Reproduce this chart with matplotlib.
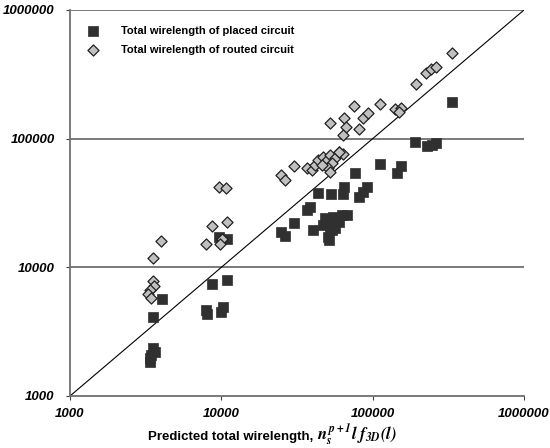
import numpy as np
import matplotlib
matplotlib.use("Agg")
import matplotlib.pyplot as plt

plt.rcParams['font.family'] = ['Liberation Sans', 'DejaVu Sans']
plt.rcParams['mathtext.fontset'] = 'stix'

# predicted total wirelength vs. total wirelength of routed circuit
routed_x = [4000, 3530, 3510, 3610, 3380, 3280, 3430,
            9690, 10800, 8710, 10900, 7910, 10100, 9860,
            24800, 26300, 30200, 36600, 39500,
            41500, 43500, 46900, 49800, 52200, 56300, 59800, 63600, 53800, 50600, 52200, 46200,
            52600, 64500, 67000, 63900, 60100, 75700, 81500, 86600, 93000,
            112000, 140000, 155000, 150000, 192000, 226000, 242000, 264000, 334000]
routed_y = [15900, 11900, 7830, 7160, 6660, 6200, 5770,
            42100, 41100, 20900, 22600, 15200, 16500, 15300,
            52600, 48100, 61000, 58800, 57000,
            62400, 68200, 72000, 68200, 74600, 70700, 78700, 75900, 64600, 59100, 55000, 62400,
            131500, 146000, 124000, 107000, 79100, 179000, 119000, 144000, 157000,
            186000, 171000, 172000, 162000, 266000, 326000, 349000, 360000, 467000]

# predicted total wirelength vs. total wirelength of placed circuit
placed_x = [4030, 3550, 3510, 3640, 3380, 3430, 3380,
            7910, 9890, 10200, 7980, 8730, 10900, 9690, 10900,
            24800, 26300, 30200, 36600, 38500, 40500, 43700, 47100, 49600, 52700,
            52200, 54800, 56300, 50800, 51600, 62300, 67200, 64600, 63900, 48300, 53500, 60000,
            76300, 81500, 86600, 92000, 112000, 144000, 155000,
            190000, 227000, 245000, 264000, 335000]
placed_y = [5640, 4130, 2350, 2210, 1960, 2080, 1840,
            4660, 4520, 4940, 4340, 7420, 7970, 17100, 16500,
            18900, 17500, 22200, 27900, 29600, 19500, 38000, 21300, 23300, 36900,
            20700, 24700, 20100, 17300, 16300, 25500, 25500, 42300, 37100, 24000, 19500, 22500,
            54300, 35000, 38700, 42300, 64100, 54300, 61200,
            94600, 87100, 90000, 92500, 191000]

ticks = [1000, 10000, 100000, 1000000]

fig = plt.figure(figsize=(5.5, 4.48), dpi=100)
ax = fig.add_axes([0.1273, 0.1161, 0.8254, 0.8616])

ax.set_xscale('log')
ax.set_yscale('log')
ax.set_xlim(1000, 1000000)
ax.set_ylim(1000, 1000000)

for yv in ticks[1:]:
    ax.axhline(yv, color='#707070', lw=1.3, zorder=1)

# y = x reference line
ax.plot([ticks[0], ticks[-1]], [ticks[0], ticks[-1]], color='black', lw=0.8, zorder=2)

ax.scatter(placed_x, placed_y, marker='s', s=42, color='#303030', edgecolors='#303030',
           linewidths=0.5, zorder=3, label='Total wirelength of placed circuit')
ax.scatter(routed_x, routed_y, marker='D', s=32, color='#c0c0c0', edgecolors='#202020',
           linewidths=0.9, zorder=4, label='Total wirelength of routed circuit')

for s in ['top', 'right']:
    ax.spines[s].set_visible(False)
for s in ['left', 'bottom']:
    ax.spines[s].set_color('#707070')
    ax.spines[s].set_linewidth(1.3)

ax.set_xticks(ticks)
ax.set_yticks(ticks)
ax.set_xticklabels([str(t) for t in ticks], fontsize=9.5, fontweight='bold', fontstyle='italic')
ax.set_yticklabels([str(t) for t in ticks], fontsize=9.5, fontweight='bold', fontstyle='italic')
ax.minorticks_off()
ax.tick_params(axis='both', length=3, width=0.8, color='#404040', direction='out')
ax.tick_params(axis='x', pad=6)
ax.tick_params(axis='y', pad=8)

# x label: sans part + math part (serif bold italic)
fig.text(313 / 550, 1 - 440 / 448, "Predicted total wirelength,", ha='right', va='baseline',
         fontsize=9.5, fontweight='bold')
fig.text(317 / 550, 1 - 440 / 448, r"$\mathbfit{n_s^{\;p+1}l\;f_{3D}(l)}$", ha='left',
         va='baseline', fontsize=12)

leg = ax.legend(loc='upper left', bbox_to_anchor=(0.012, 0.975), frameon=False,
                prop={'weight': 'bold', 'size': 8},
                handletextpad=1.5, labelspacing=0.75, borderaxespad=0.2)

fig.savefig('out.png', dpi=100)
